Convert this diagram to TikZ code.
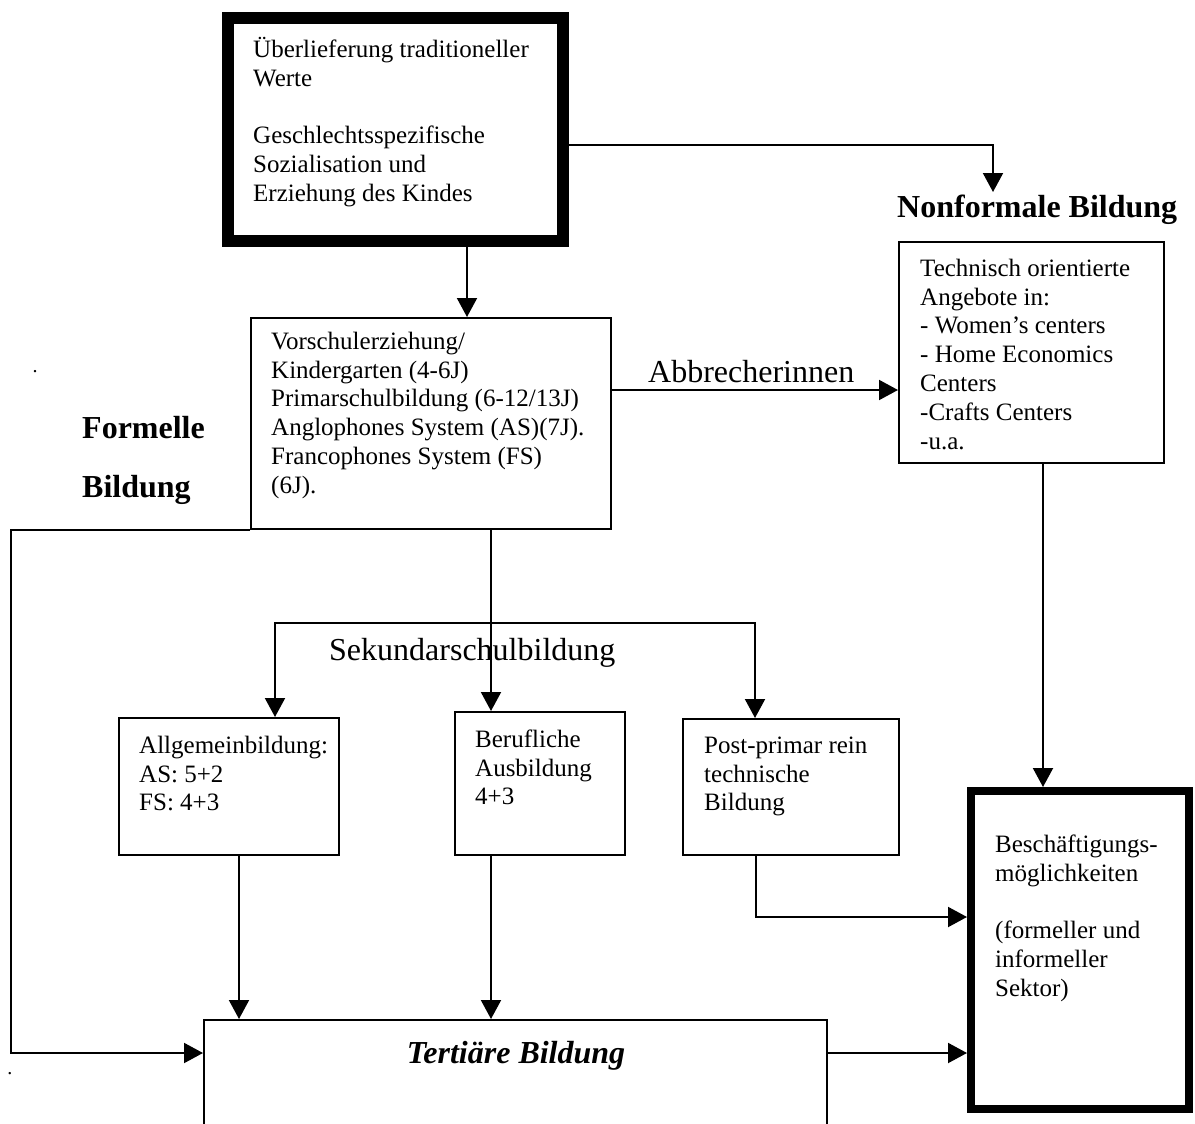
\documentclass[tikz,border=0pt]{standalone}
\usepackage{fontspec}
\setmainfont{Liberation Serif}
\usetikzlibrary{arrows.meta}
\newcommand\firstline{\rule{0pt}{23pt}}
\begin{document}
\begin{tikzpicture}[x=1pt,y=-1pt,
  box/.style={draw, line width=2pt, inner sep=0pt},
  heavybox/.style={draw, line width=12pt, inner sep=0pt},
  midbox/.style={draw, line width=8pt, inner sep=0pt},
  txt/.style={anchor=north west, inner sep=0pt, align=left,
              font=\fontsize{25}{28.8}\selectfont},
  big/.style={anchor=base west, inner sep=0pt, font=\fontsize{32}{36}\selectfont},
  bigb/.style={anchor=base west, inner sep=0pt, font=\fontsize{32}{36}\selectfont\bfseries},
  link/.style={line width=2pt},
  arr/.style={link, -{Triangle[length=19pt,width=20pt]}},
]
\useasboundingbox (0,0) rectangle (1195,1124);
\clip (0,0) rectangle (1195,1124);

% ---------- boxes ----------
\node[heavybox, minimum width=335pt, minimum height=223pt] (top)   at (395.5,129.5) {};
\node[box, minimum width=360pt, minimum height=211pt]      (vor)   at (431,423.5) {};
\node[box, minimum width=265pt, minimum height=221pt]      (nf)    at (1031.5,352.5) {};
\node[box, minimum width=220pt, minimum height=137pt]      (allg)  at (229,786.5) {};
\node[box, minimum width=170pt, minimum height=143pt]      (beruf) at (540,783.5) {};
\node[box, minimum width=216pt, minimum height=136pt]      (post)  at (791,787) {};
\node[midbox, minimum width=218pt, minimum height=318pt]   (besch) at (1080,950) {};
\node[box, minimum width=623pt, minimum height=140pt]      (tert)  at (515.5,1090) {};

% ---------- box texts ----------
\node[txt] (toptxt) at (253,34) {\firstline Überlieferung traditioneller\\Werte\\[28.8pt]Geschlechtsspezifische\\Sozialisation und\\Erziehung des Kindes};
\node[txt] (vortxt) at (271,326) {\firstline Vorschulerziehung/\\Kindergarten (4-6J)\\Primarschulbildung (6-12/13J)\\Anglophones System (AS)(7J).\\Francophones System (FS)\\(6J).};
\node[txt] (nftxt) at (920,253) {\firstline Technisch orientierte\\Angebote in:\\- Women’s centers\\- Home Economics\\Centers\\-Crafts Centers\\-u.a.};
\node[txt] (allgtxt) at (139,730) {\firstline Allgemeinbildung:\\AS: 5+2\\FS: 4+3};
\node[txt] (berufftxt) at (475,724) {\firstline Berufliche\\Ausbildung\\4+3};
\node[txt] (posttxt) at (704,730) {\firstline Post-primar rein\\technische\\Bildung};
\node[txt] (beschtxt) at (995,829) {\firstline Beschäftigungs-\\möglichkeiten\\[28.8pt](formeller und\\informeller\\Sektor)};

% ---------- headings and labels ----------
\node[bigb] (nfh)  at (897,217) {Nonformale Bildung};
\node[bigb] (fb1)  at (82,438)  {Formelle};
\node[bigb] (fb2)  at (82,497)  {Bildung};
\node[big]  (abb)  at (648,382) {Abbrecherinnen};
\node[big]  (sek)  at (329,660) {Sekundarschulbildung};
\node[anchor=base, inner sep=0pt, font=\fontsize{32}{36}\selectfont\bfseries\itshape] (terth) at (516,1063) {Tertiäre Bildung};
\node[anchor=base, inner sep=0pt, font=\fontsize{20}{24}\selectfont] (dotA) at (35,372) {.};
\node[anchor=base, inner sep=0pt, font=\fontsize{20}{24}\selectfont] (dotB) at (10,1074) {.};

% ---------- connectors ----------
\coordinate (nfin) at (993,192);
\coordinate (sekL) at (275,623);
\coordinate (sekR) at (755,623);
\coordinate (bend) at (11,1053);

\draw[arr] (top.east |- 0,145) -| (nfin);
\draw[arr] (top.south -| 467,0) -- (vor.north -| 467,0);
\draw[arr] (vor.east |- 0,390) -- (nf.west |- 0,390);
\draw[arr] (vor.south west) -| (bend) -- (tert.west |- bend);
\draw[arr] (vor.south -| 491,0) -- (beruf.north -| 491,0);
\draw[arr] (sekR) -- (sekL) -- (allg.north -| sekL);
\draw[arr] (sekL) -- (sekR) -- (post.north -| sekR);
\draw[arr] (allg.south -| 239,0) -- (tert.north -| 239,0);
\draw[arr] (beruf.south -| 491,0) -- (tert.north -| 491,0);
\draw[arr] (post.south -| 756,0) |- (besch.west |- 0,917);
\draw[arr] (tert.east |- bend) -- (besch.west |- bend);
\draw[arr] (nf.south -| 1043,0) -- (besch.north -| 1043,0);
\end{tikzpicture}
\end{document}
